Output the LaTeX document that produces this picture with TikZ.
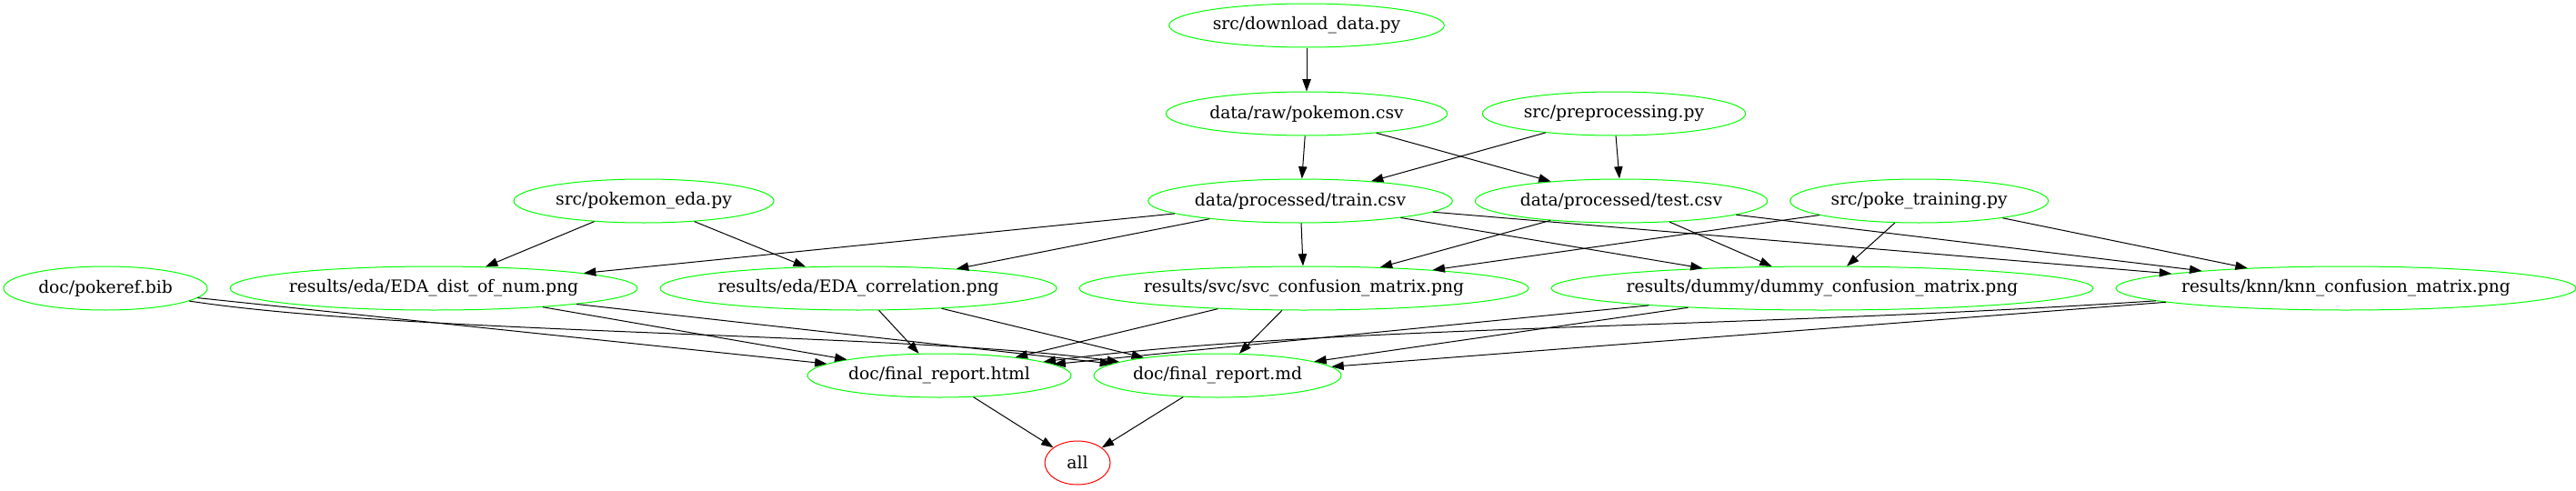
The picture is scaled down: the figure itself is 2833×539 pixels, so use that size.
\documentclass[tikz,border=0pt]{standalone}
\usepackage{fontspec}
\setmainfont{DejaVu Serif}
\usetikzlibrary{arrows.meta,positioning,shapes.geometric}
\definecolor{filegreen}{RGB}{0,255,0}
\definecolor{goalred}{RGB}{255,0,0}
\tikzset{
  target/.style={ellipse, draw=filegreen, line width=0.75pt, inner xsep=-10pt, inner ysep=0pt,
                 minimum height=36pt, font=\fontsize{14}{16}\selectfont},
  goal/.style={target, draw=goalred},
  arrow/.style={-{Triangle[length=10pt, width=7pt]}, line width=0.75pt, black},
}

\begin{document}
\begin{tikzpicture}[x=0.75pt, y=-0.75pt, node distance=18pt]
\useasboundingbox (0,0) rectangle (2833,539);
% scripts and data
\node[target, minimum width=232pt] (raw) at (1437,125) {data/raw/pokemon.csv};
\node[target, minimum width=227pt, above=36pt of raw] (download) {src/download\_data.py};
\node[target, minimum width=217pt] (prep) at (1775,125) {src/preprocessing.py};
\node[target, minimum width=214.5pt] (eda) at (708,221) {src/pokemon\_eda.py};
\node[target, minimum width=251pt] (train) at (1430,221) {data/processed/train.csv};
\node[target, minimum width=241pt, right=of train] (test) {data/processed/test.csv};
\node[target, minimum width=213pt, right=of test] (training) {src/poke\_training.py};
% results
\node[target, minimum width=168pt] (bib) at (116,317) {doc/pokeref.bib};
\node[target, minimum width=336pt, right=of bib] (dist) {results/eda/EDA\_dist\_of\_num.png};
\node[target, minimum width=327pt, right=of dist] (corr) {results/eda/EDA\_correlation.png};
\node[target, minimum width=370.5pt, right=of corr] (svc) {results/svc/svc\_confusion\_matrix.png};
\node[target, minimum width=447pt, right=of svc] (dummy) {results/dummy/dummy\_confusion\_matrix.png};
\node[target, minimum width=379.5pt, right=of dummy] (knn) {results/knn/knn\_confusion\_matrix.png};
% report
\node[target, minimum width=217.5pt] (html) at (1033,413) {doc/final\_report.html};
\node[target, minimum width=204pt, right=of html] (md) {doc/final\_report.md};
\node[goal, minimum width=54pt] (all) at (1185,509) {all};

\foreach \a/\b in {download/raw, raw/train, raw/test, prep/train, prep/test,
                   eda/dist, eda/corr, train/dist, train/corr, train/svc, train/dummy, train/knn,
                   test/svc, test/dummy, test/knn, training/svc, training/dummy, training/knn,
                   bib/html, dist/html, dist/md, corr/html, corr/md, svc/html, svc/md,
                   dummy/html, dummy/md, knn/md, html/all, md/all}
  \draw[arrow] (\a) -- (\b);
\draw[arrow] (bib) .. controls (450,368) and (1000,366) .. (md);
\draw[arrow] (knn) .. controls (1900,362) and (1450,358) .. (html);
\end{tikzpicture}
\end{document}
